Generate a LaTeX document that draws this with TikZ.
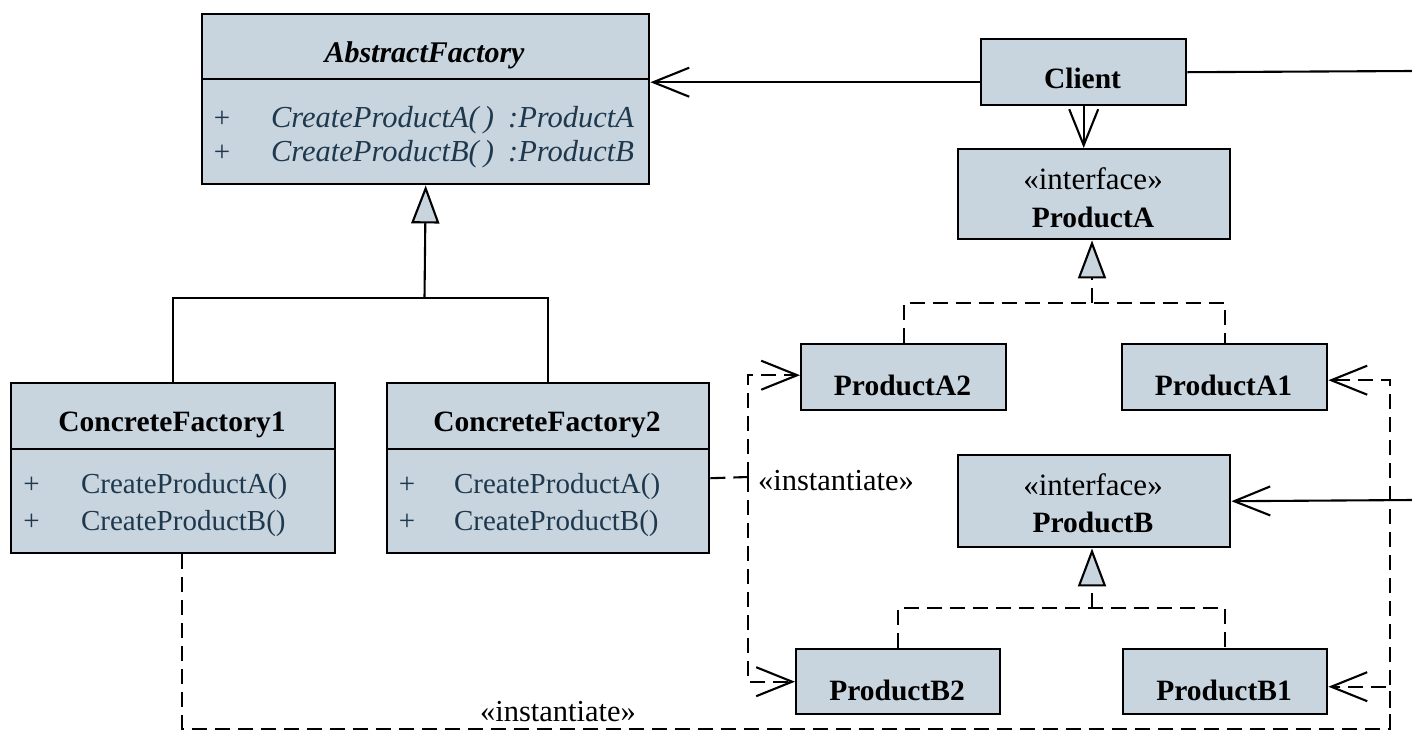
\documentclass[tikz,border=0pt]{standalone}
\usepackage{fontspec}
\setmainfont{Liberation Serif}
\usetikzlibrary{arrows.meta}
\definecolor{boxfill}{RGB}{200,212,222}
\definecolor{opcolor}{RGB}{30,56,78}

\begin{document}
\begin{tikzpicture}[x=1pt,y=-1pt,
  line width=2.1pt,
  umlbox/.style={draw, fill=boxfill, line width=2.4pt, inner sep=0pt, anchor=north west},
  lbl/.style={inner sep=0pt, anchor=base},
  cname/.style={lbl, font=\fontsize{29.5}{35}\selectfont\bfseries},
  aname/.style={lbl, font=\fontsize{30}{36}\selectfont\bfseries\itshape},
  stereo/.style={lbl, font=\fontsize{31}{36}\selectfont},
  plus/.style={lbl, text=opcolor, font=\fontsize{29}{35}\selectfont},
  aop/.style={lbl, anchor=base west, text=opcolor, font=\fontsize{30.5}{36}\selectfont\itshape},
  cop/.style={lbl, anchor=base west, text=opcolor, font=\fontsize{29}{35}\selectfont},
  note/.style={lbl, anchor=base west, font=\fontsize{30.5}{36}\selectfont},
  open/.style={-{Straight Barb[length=36pt,width=29pt]}},
  gen/.style={-{Triangle[length=38pt,width=28pt,fill=boxfill]}},
  dep/.style={dash pattern=on 15pt off 8pt},
]
\useasboundingbox (0,0) rectangle (1412,732);

% class boxes
\node[umlbox, minimum width=447pt, minimum height=170pt] (af) at (201,13) {};
\node[umlbox, minimum width=205pt, minimum height=66pt] (client) at (980,38) {};
\node[umlbox, minimum width=272pt, minimum height=90pt] (pa) at (957,148) {};
\node[umlbox, minimum width=205pt, minimum height=66pt] (pa2) at (800,343) {};
\node[umlbox, minimum width=205pt, minimum height=66pt] (pa1) at (1121,343) {};
\node[umlbox, minimum width=272pt, minimum height=92pt] (pb) at (957,454) {};
\node[umlbox, minimum width=204pt, minimum height=65pt] (pb2) at (795,648) {};
\node[umlbox, minimum width=204pt, minimum height=65pt] (pb1) at (1122,648) {};
\node[umlbox, minimum width=324pt, minimum height=170pt] (cf1) at (10,382) {};
\node[umlbox, minimum width=322pt, minimum height=170pt] (cf2) at (386,382) {};

% compartment dividers
\draw[line width=2.4pt] (af.west |- 0,79) -- (af.east |- 0,79);
\draw[line width=2.4pt] (cf1.west |- 0,449) -- (cf1.east |- 0,449);
\draw[line width=2.4pt] (cf2.west |- 0,449) -- (cf2.east |- 0,449);

% AbstractFactory
\node[aname] (aft) at (424.5,62) {AbstractFactory};
\node[plus] (afp1) at (222,127) {+};
\node[plus] (afp2) at (222,161) {+};
\node[aop] (afo1) at (270,127) {CreateProductA(\,)\hspace{14pt}:ProductA};
\node[aop] (afo2) at (270,161) {CreateProductB(\,)\hspace{14pt}:ProductB};

% Client and products
\node[cname] (clientt) at (1082.5,88) {Client};
\node[stereo] (pas) at (1093,189) {«interface»};
\node[cname] (pat) at (1093,227) {ProductA};
\node[stereo] (pbs) at (1093,495) {«interface»};
\node[cname] (pbt) at (1093,532) {ProductB};
\node[cname] (pa2t) at (902.5,395) {ProductA2};
\node[cname] (pa1t) at (1223.5,395) {ProductA1};
\node[cname] (pb2t) at (897,700) {ProductB2};
\node[cname] (pb1t) at (1224,700) {ProductB1};

% concrete factories
\node[cname] (cf1t) at (172,431) {ConcreteFactory1};
\node[cname] (cf2t) at (547,431) {ConcreteFactory2};
\node[plus] (cf1p1) at (31.5,493) {+};
\node[plus] (cf1p2) at (31.5,530) {+};
\node[cop] (cf1o1) at (80,493) {CreateProductA()};
\node[cop] (cf1o2) at (80,530) {CreateProductB()};
\node[plus] (cf2p1) at (407,493) {+};
\node[plus] (cf2p2) at (407,530) {+};
\node[cop] (cf2o1) at (453,493) {CreateProductA()};
\node[cop] (cf2o2) at (453,530) {CreateProductB()};

% associations from Client
\coordinate (rtop) at (1412,71);
\coordinate (rmid) at (1412,500);
\draw[open] ([yshift=-10pt]client.west) -- ([yshift=-10pt]client.west -| af.east);
\draw (client.east) -- (rtop);
\draw[open] (client.south) -- (client.south |- pa.north);
\draw[open] (rmid) -- (pb.east);

% generalization of the factories
\coordinate (jf) at (424.5,298);
\draw (cf1.north) |- (jf) -| (cf2.north);
\draw[gen] (jf) -- (af.south);

% realizations of the product interfaces
\coordinate (ja) at (1092,303);
\draw[dep] (pa2.north) |- (ja) -| (pa1.north);
\draw[dep, gen] (ja) -- (ja |- pa.south);
\coordinate (jb) at (1092,608);
\draw[dep] (pb2.north) |- (jb) -| (pb1.north);
\draw[dep, gen] (jb) -- (jb |- pb.south);

% instantiate dependencies
\coordinate (jd) at (748,477);
\draw[dep] ([yshift=-10pt]cf2.east) -- (jd);
\draw[dep, open] (jd) |- ([yshift=2pt]pa2.west);
\draw[dep, open] (jd) |- (pb2.west);
\node[note] (inst1) at (757,490) {«instantiate»};

\coordinate (br) at (1390,729);
\draw[dep, open] ([xshift=9pt]cf1.south) |- (br) |- ([yshift=-3pt]pa1.east);
\draw[dep, open] (br) |- ([yshift=-5pt]pb1.east);
\node[note] (inst2) at (479,721) {«instantiate»};
\end{tikzpicture}
\end{document}
